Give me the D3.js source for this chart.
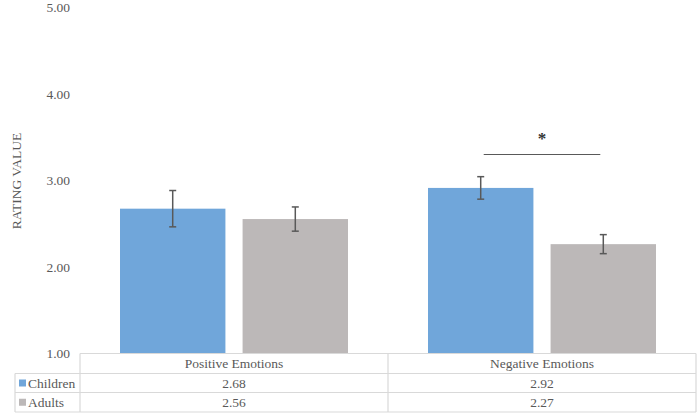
<!DOCTYPE html>
<html>
<head>
<meta charset="utf-8">
<script src="https://cdn.jsdelivr.net/npm/d3@7"></script>
<style>
body { margin: 0; background: #fff; }
</style>
</head>
<body>
<svg width="700" height="415"></svg>
<script>
let svg = d3.select("svg")
    .style("font-family", "'Liberation Serif', 'DejaVu Serif', serif");

// donnees
let categories = ["Positive Emotions", "Negative Emotions"];
let series = ["Children", "Adults"];
let children = [2.68, 2.92];
let adults = [2.56, 2.27];
let errChildren = [0.21, 0.13];
let errAdults = [0.14, 0.11];
let yTicks = [1, 2, 3, 4, 5];
let couleurs = ["#70a6da", "#bcb8b8"];
let gris = "#595959";

let valeurs = [children, adults];
let erreurs = [errChildren, errAdults];

let y = d3.scaleLinear().domain([1, 5]).range([354, 8]);
let x = d3.scaleBand().domain(categories).range([80, 696]);
let xs = d3.scaleBand().domain(series).range([40, 268]).paddingInner(0.14);

// axe y (labels seulement)
svg.append("g")
    .selectAll("text")
    .data(yTicks)
    .enter()
    .append("text")
    .attr("x", 70)
    .attr("y", d => y(d) + 4)
    .attr("text-anchor", "end")
    .attr("font-size", 13.5)
    .attr("fill", gris)
    .text(d => d.toFixed(2));

svg.append("text")
    .attr("transform", "translate(21," + y(3) + ") rotate(-90)")
    .attr("text-anchor", "middle")
    .attr("font-size", 13.5)
    .attr("fill", gris)
    .text("RATING VALUE");

// barres
let donnees = [];
categories.forEach(function (c, i) {
    series.forEach(function (s, j) {
        donnees.push({ cat: c, serie: s, v: valeurs[j][i], e: erreurs[j][i], col: couleurs[j] });
    });
});

svg.append("g")
    .selectAll("rect")
    .data(donnees)
    .enter()
    .append("rect")
    .attr("x", d => x(d.cat) + xs(d.serie))
    .attr("y", d => y(d.v))
    .attr("width", xs.bandwidth())
    .attr("height", d => y(1) - y(d.v))
    .attr("fill", d => d.col);

// barres d'erreur
let eb = svg.append("g").attr("stroke", gris).attr("stroke-width", 1.5);
donnees.forEach(function (d) {
    let cx = x(d.cat) + xs(d.serie) + xs.bandwidth() / 2;
    eb.append("line").attr("x1", cx).attr("x2", cx).attr("y1", y(d.v + d.e)).attr("y2", y(d.v - d.e));
    eb.append("line").attr("x1", cx - 3.5).attr("x2", cx + 3.5).attr("y1", y(d.v + d.e)).attr("y2", y(d.v + d.e));
    eb.append("line").attr("x1", cx - 3.5).attr("x2", cx + 3.5).attr("y1", y(d.v - d.e)).attr("y2", y(d.v - d.e));
});

// significativite
let xa = x(categories[1]) + xs(series[0]) + xs.bandwidth() / 2 + 3;
let xb = x(categories[1]) + xs(series[1]) + xs.bandwidth() / 2 - 3;
svg.append("line")
    .attr("x1", xa).attr("x2", xb)
    .attr("y1", 154.5).attr("y2", 154.5)
    .attr("stroke", gris).attr("stroke-width", 1.2);
svg.append("text")
    .attr("x", (xa + xb) / 2)
    .attr("y", 144)
    .attr("text-anchor", "middle")
    .attr("font-size", 17)
    .attr("font-weight", "bold")
    .attr("fill", "#333")
    .text("*");

// tableau de donnees
let grille = svg.append("g").attr("stroke", "#d9d9d9").attr("stroke-width", 1.2);
let rows = [353.5, 373.5, 392.5, 412];
grille.append("line").attr("x1", 80).attr("x2", 696).attr("y1", rows[0]).attr("y2", rows[0]);
for (let k = 1; k < rows.length; k++) {
    grille.append("line").attr("x1", 15).attr("x2", 696).attr("y1", rows[k]).attr("y2", rows[k]);
}
grille.append("line").attr("x1", 15).attr("x2", 15).attr("y1", rows[1]).attr("y2", rows[3]);
[80, 388, 696].forEach(function (xx) {
    grille.append("line").attr("x1", xx).attr("x2", xx).attr("y1", rows[0]).attr("y2", rows[3]);
});

svg.append("g")
    .selectAll("text")
    .data(categories)
    .enter()
    .append("text")
    .attr("x", d => x(d) + x.bandwidth() / 2)
    .attr("y", 368)
    .attr("text-anchor", "middle")
    .attr("font-size", 13.5)
    .attr("fill", gris)
    .text(d => d);

series.forEach(function (s, j) {
    let ry = (rows[j + 1] + rows[j + 2]) / 2;
    svg.append("rect")
        .attr("x", 19).attr("y", ry - 3.5)
        .attr("width", 7).attr("height", 7)
        .attr("fill", couleurs[j]);
    svg.append("text")
        .attr("x", 28).attr("y", ry + 4.5)
        .attr("font-size", 13.5)
        .attr("fill", gris)
        .text(s);
    categories.forEach(function (c, i) {
        svg.append("text")
            .attr("x", x(c) + x.bandwidth() / 2)
            .attr("y", ry + 4.5)
            .attr("text-anchor", "middle")
            .attr("font-size", 13.5)
            .attr("fill", gris)
            .text(valeurs[j][i].toFixed(2));
    });
});
</script>
</body>
</html>
